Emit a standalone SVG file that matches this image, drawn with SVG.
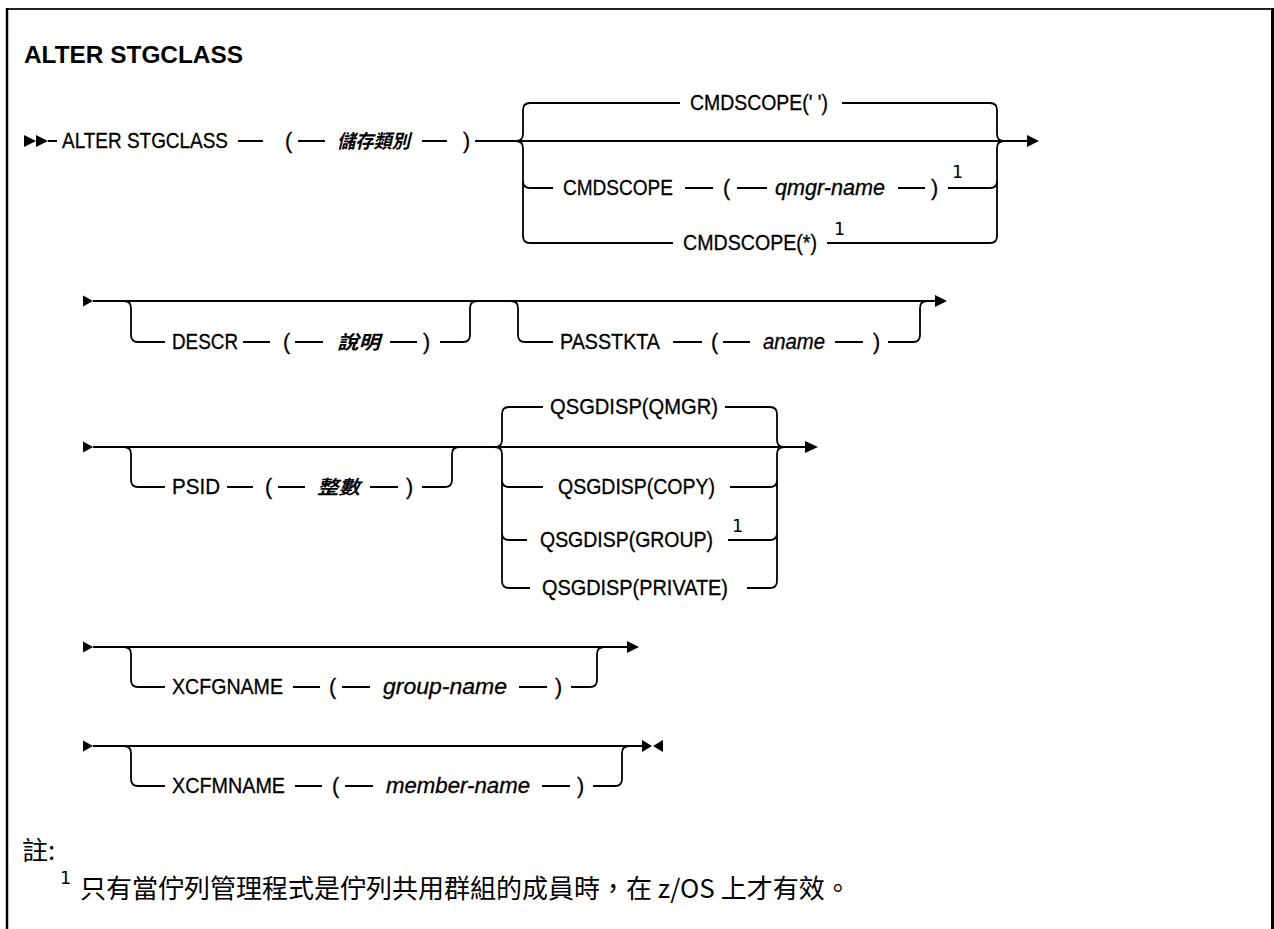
<svg xmlns="http://www.w3.org/2000/svg" width="1274" height="929" viewBox="0 0 1274 929">
<style>
.t{font-family:"Liberation Sans",Arial,sans-serif;font-size:21.5px;fill:#000;stroke:#000;stroke-width:0.3}
.it{font-style:italic}
.b{font-weight:bold}
.cjk{font-family:"Liberation Sans","Noto Sans CJK TC",sans-serif;font-size:19px;font-weight:bold;font-style:italic;fill:#000}
.sup{font-family:"DejaVu Sans","Liberation Sans",sans-serif;font-size:17.5px;fill:#000}
.note{font-family:"Noto Sans CJK TC","Noto Sans CJK SC",sans-serif;font-size:26px;fill:#000}
.ln{fill:none;stroke:#000;stroke-width:1.8}
.ah{fill:#000;stroke:none}
</style>
<rect x="0" y="0" width="1274" height="929" fill="#fff"/>
<g id="frame">
<line x1="7" y1="9" x2="1272" y2="9" stroke="#222" stroke-width="2"/>
<line x1="7" y1="8" x2="7" y2="929" stroke="#000" stroke-width="2.5"/>
<line x1="1272.5" y1="8" x2="1272.5" y2="929" stroke="#000" stroke-width="3"/>
</g>
<g id="title"><text class="t b" x="24" y="63" style="font-size:24px;stroke-width:0" textLength="219" lengthAdjust="spacingAndGlyphs">ALTER STGCLASS</text></g>
<g id="connectors">
<path class="ah" d="M24,135 L36,141 L24,147 Z M36,135 L48,141 L36,147 Z"/>
<path class="ln" d="M48,141 L57,141 M238,141 L263,141 M298,141 L325,141 M422,141 L447,141 M475,141 L1028,141"/>
<path class="ah" d="M1027,135 L1039,141 L1027,147 Z"/>
<path class="ln" d="M516,141 Q523,141 523,134 L523,110 Q523,103 530,103 L680,103 M842,103 L990,103 Q997,103 997,110 L997,134 Q997,141 1004,141"/>
<path class="ln" d="M516,141 Q523,141 523,148 L523,236 Q523,243 530,243 L673,243 M523,181 Q523,188 530,188 L553,188"/>
<path class="ln" d="M685,188 L713,188 M737,188 L767,188 M898,188 L925,188 M948,188 L990,188 Q997,188 997,181"/>
<path class="ln" d="M827,243 L990,243 Q997,243 997,236 L997,148 Q997,141 1004,141"/>
<path class="ah" d="M83,295.5 L93,301 L83,306.5 Z"/>
<path class="ln" d="M93,301 L936,301"/>
<path class="ah" d="M935,295 L947,301 L935,307 Z"/>
<path class="ln" d="M124,301 Q131,301 131,308 L131,335 Q131,342 138,342 L165,342 M243,342 L270,342 M295,342 L323,342 M390,342 L417,342 M440,342 L463,342 Q470,342 470,335 L470,308 Q470,301 477,301"/>
<path class="ln" d="M511,301 Q518,301 518,308 L518,335 Q518,342 525,342 L553,342 M673,342 L702,342 M723,342 L750,342 M835,342 L863,342 M888,342 L913,342 Q920,342 920,335 L920,308 Q920,301 927,301"/>
<path class="ah" d="M83,441.5 L93,447 L83,452.5 Z"/>
<path class="ln" d="M93,447 L806,447"/>
<path class="ah" d="M805,441 L818,447 L805,453 Z"/>
<path class="ln" d="M124,447 Q131,447 131,454 L131,480 Q131,487 138,487 L165,487 M227,487 L253,487 M278,487 L305,487 M370,487 L398,487 M422,487 L445,487 Q452,487 452,480 L452,454 Q452,447 459,447"/>
<path class="ln" d="M495,447 Q502,447 502,440 L502,414 Q502,407 509,407 L543,407 M725,407 L770,407 Q777,407 777,414 L777,440 Q777,447 784,447"/>
<path class="ln" d="M495,447 Q502,447 502,454 L502,581 Q502,588 509,588 L530,588 M502,480 Q502,487 509,487 L543,487 M502,533 Q502,540 509,540 L527,540"/>
<path class="ln" d="M747,588 L770,588 Q777,588 777,581 L777,454 Q777,447 784,447 M730,487 L770,487 Q777,487 777,480 M728,540 L770,540 Q777,540 777,533"/>
<path class="ah" d="M83,641.5 L93,647 L83,652.5 Z"/>
<path class="ln" d="M93,647 L628,647"/>
<path class="ah" d="M627,641 L639,647 L627,653 Z"/>
<path class="ln" d="M124,647 Q131,647 131,654 L131,680 Q131,687 138,687 L165,687 M293,687 L320,687 M342,687 L370,687 M519,687 L547,687 M571,687 L590,687 Q597,687 597,680 L597,654 Q597,647 604,647"/>
<path class="ah" d="M83,740.5 L93,746 L83,751.5 Z"/>
<path class="ln" d="M93,746 L643,746"/>
<path class="ah" d="M642,740 L652,746 L642,752 Z M663,740 L653,746 L663,752 Z"/>
<path class="ln" d="M124,746 Q131,746 131,753 L131,779 Q131,786 138,786 L165,786 M295,786 L322,786 M345,786 L373,786 M542,786 L570,786 M593,786 L615,786 Q622,786 622,779 L622,753 Q622,746 629,746"/>
</g>
<g id="n-alter"><text class="t" x="62" y="148" textLength="166" lengthAdjust="spacingAndGlyphs">ALTER STGCLASS</text></g>
<g id="n-lp1"><text class="t" x="285" y="148">(</text></g>
<g id="n-stgclass"><text class="cjk" x="337" y="148" textLength="73" lengthAdjust="spacingAndGlyphs">儲存類別</text></g>
<g id="n-rp1"><text class="t" x="463" y="148">)</text></g>
<g id="n-cmdscope-blank"><text class="t" x="690" y="110" textLength="138" lengthAdjust="spacingAndGlyphs">CMDSCOPE(' ')</text></g>
<g id="n-cmdscope"><text class="t" x="563" y="195" textLength="110" lengthAdjust="spacingAndGlyphs">CMDSCOPE</text></g>
<g id="n-lp2"><text class="t" x="723" y="195">(</text></g>
<g id="n-qmgr"><text class="t it" x="775" y="195" textLength="110" lengthAdjust="spacingAndGlyphs">qmgr-name</text></g>
<g id="n-rp2"><text class="t" x="931" y="195">)</text></g>
<g id="n-fn1a"><text class="sup" x="952" y="178">1</text></g>
<g id="n-cmdscope-star"><text class="t" x="683" y="250" textLength="134" lengthAdjust="spacingAndGlyphs">CMDSCOPE(*)</text></g>
<g id="n-fn1b"><text class="sup" x="834" y="235">1</text></g>
<g id="n-descr"><text class="t" x="172" y="349" textLength="66" lengthAdjust="spacingAndGlyphs">DESCR</text></g>
<g id="n-lp3"><text class="t" x="283" y="349">(</text></g>
<g id="n-desc"><text class="cjk" x="337" y="349" textLength="43" lengthAdjust="spacingAndGlyphs">說明</text></g>
<g id="n-rp3"><text class="t" x="423" y="349">)</text></g>
<g id="n-passtkta"><text class="t" x="560" y="349" textLength="100" lengthAdjust="spacingAndGlyphs">PASSTKTA</text></g>
<g id="n-lp4"><text class="t" x="711" y="349">(</text></g>
<g id="n-aname"><text class="t it" x="763" y="349" textLength="62" lengthAdjust="spacingAndGlyphs">aname</text></g>
<g id="n-rp4"><text class="t" x="873" y="349">)</text></g>
<g id="n-psid"><text class="t" x="172" y="494" textLength="48" lengthAdjust="spacingAndGlyphs">PSID</text></g>
<g id="n-lp5"><text class="t" x="265" y="494">(</text></g>
<g id="n-int"><text class="cjk" x="317" y="494" textLength="43" lengthAdjust="spacingAndGlyphs">整數</text></g>
<g id="n-rp5"><text class="t" x="406" y="494">)</text></g>
<g id="n-qmgrdisp"><text class="t" x="550" y="414" textLength="168" lengthAdjust="spacingAndGlyphs">QSGDISP(QMGR)</text></g>
<g id="n-copy"><text class="t" x="558" y="494" textLength="157" lengthAdjust="spacingAndGlyphs">QSGDISP(COPY)</text></g>
<g id="n-group"><text class="t" x="540" y="547" textLength="173" lengthAdjust="spacingAndGlyphs">QSGDISP(GROUP)</text></g>
<g id="n-fn1c"><text class="sup" x="732" y="532">1</text></g>
<g id="n-private"><text class="t" x="542" y="595" textLength="186" lengthAdjust="spacingAndGlyphs">QSGDISP(PRIVATE)</text></g>
<g id="n-xcfgname"><text class="t" x="172" y="694" textLength="111" lengthAdjust="spacingAndGlyphs">XCFGNAME</text></g>
<g id="n-lp6"><text class="t" x="329" y="694">(</text></g>
<g id="n-groupname"><text class="t it" x="383" y="694" textLength="124" lengthAdjust="spacingAndGlyphs">group-name</text></g>
<g id="n-rp6"><text class="t" x="555" y="694">)</text></g>
<g id="n-xcfmname"><text class="t" x="172" y="793" textLength="113" lengthAdjust="spacingAndGlyphs">XCFMNAME</text></g>
<g id="n-lp7"><text class="t" x="332" y="793">(</text></g>
<g id="n-membername"><text class="t it" x="386" y="793" textLength="144" lengthAdjust="spacingAndGlyphs">member-name</text></g>
<g id="n-rp7"><text class="t" x="577" y="793">)</text></g>
<g id="notes">
<text class="note" x="22" y="860">註:</text>
<text class="sup" x="60" y="884">1</text>
<text class="note" x="80" y="898">只有當佇列管理程式是佇列共用群組的成員時，在 z/OS 上才有效。</text>
</g>
</svg>
